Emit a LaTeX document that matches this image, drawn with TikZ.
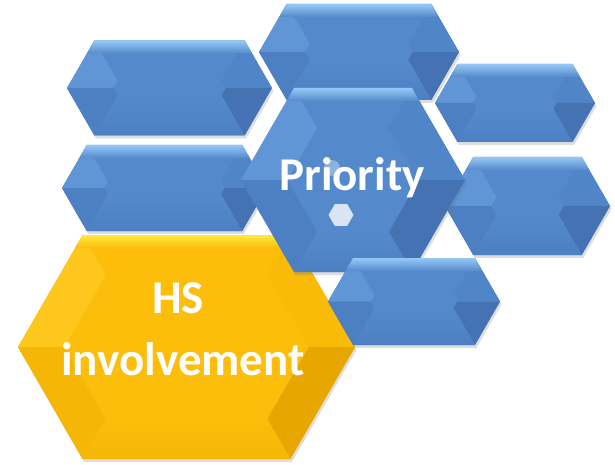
\documentclass[tikz,border=0pt]{standalone}
\usepackage{fontspec}
\setmainfont{Carlito}
\usetikzlibrary{shapes.geometric,shadows}
\definecolor{hexbody}{RGB}{84,138,204}
\definecolor{hexlight}{RGB}{150,200,245}
\definecolor{hexup}{RGB}{96,150,214}
\definecolor{hexlow}{RGB}{76,128,194}
\definecolor{hexrup}{RGB}{80,133,199}
\definecolor{hexdark}{RGB}{68,114,178}
\definecolor{goldbody}{RGB}{252,190,10}
\definecolor{goldlight}{RGB}{255,232,60}
\definecolor{goldup}{RGB}{255,199,30}
\definecolor{goldlow}{RGB}{246,182,6}
\definecolor{goldrup}{RGB}{250,186,8}
\definecolor{golddark}{RGB}{232,166,0}
\tikzset{hexshadow/.style={drop shadow={fill=black!60,opacity=0.22,shadow xshift=1.5pt,shadow yshift=-3pt}},
  hextext/.style={text=white,font=\fontsize{47}{56}\selectfont\bfseries,anchor=base}}
\newcommand{\bevelhex}[6]{%
  \pgfmathsetmacro{\hxa}{0.577*#5}%
  \pgfmathsetmacro{\hxd}{min(0.85*#5,40)}%
  \pgfmathsetmacro{\hxl}{#2-#4}\pgfmathsetmacro{\hxr}{#2+#4}%
  \pgfmathsetmacro{\hxtl}{#2-#4+\hxa}\pgfmathsetmacro{\hxtr}{#2+#4-\hxa}%
  \pgfmathsetmacro{\hxt}{#3-#5}\pgfmathsetmacro{\hxb}{#3+#5}%
  \pgfmathsetmacro{\hxit}{\hxt+\hxd}\pgfmathsetmacro{\hxib}{\hxb-\hxd}%
  \pgfmathsetmacro{\hxitl}{\hxtl+0.577*\hxd}\pgfmathsetmacro{\hxitr}{\hxtr-0.577*\hxd}%
  \pgfmathsetmacro{\hxil}{\hxl+1.155*\hxd}\pgfmathsetmacro{\hxir}{\hxr-1.155*\hxd}%
  \coordinate (#1) at (#2,#3);
  \fill[#6body,hexshadow] (\hxl,#3) -- (\hxtl,\hxt) -- (\hxtr,\hxt) -- (\hxr,#3)
    -- (\hxtr,\hxb) -- (\hxtl,\hxb) -- cycle;
  \fill[#6up] (\hxl,#3) -- (\hxtl,\hxt) -- (\hxitl,\hxit) -- (\hxil,#3) -- cycle;
  \fill[#6low] (\hxl,#3) -- (\hxil,#3) -- (\hxitl,\hxib) -- (\hxtl,\hxb) -- cycle;
  \fill[#6rup] (\hxtr,\hxt) -- (\hxr,#3) -- (\hxir,#3) -- (\hxitr,\hxit) -- cycle;
  \fill[#6dark] (\hxr,#3) -- (\hxtr,\hxb) -- (\hxitr,\hxib) -- (\hxir,#3) -- cycle;
  \shade[top color=#6body,bottom color=#6low] (\hxitl,\hxib) -- (\hxitr,\hxib)
    -- (\hxtr,\hxb) -- (\hxtl,\hxb) -- cycle;
  \shade[top color=#6light,bottom color=#6body] (\hxtl,\hxt) -- (\hxtr,\hxt)
    -- ({\hxtr+7.5},{\hxt+13}) -- ({\hxtl-7.5},{\hxt+13}) -- cycle;
}
\begin{document}
\begin{tikzpicture}[x=1pt,y=-1pt]
  \useasboundingbox (0,0) rectangle (615,465);
  \foreach \name/\cx/\cy/\w/\h in {midleft/164.5/188/102.5/43,topleft/169.5/88/102.5/47.5,
    topmid/359/52/100/48,upright/515/103/80/39,lowright/527.5/206/82.5/49}
  \bevelhex{\name}{\cx}{\cy}{\w}{\h}{hex};
  \bevelhex{hsinv}{186.5}{347}{168.5}{112}{gold}
  \bevelhex{prio}{353}{180}{112}{92}{hex}
  \bevelhex{botright}{414}{301.5}{86}{43.5}{hex}
  \node[circle,fill=white,opacity=0.35,minimum size=16pt,inner sep=0pt] (dot) at (332,168) {};
  \node[regular polygon,regular polygon sides=6,fill=white!78!hexbody,minimum size=25pt,inner sep=0pt] (core) at (341,215) {};
  \node[hextext] (prioritytext) at (352,190) {Priority};
  \node[hextext] (hstext) at (178,313) {HS};
  \node[hextext] (involvementtext) at (183,375) {involvement};
\end{tikzpicture}
\end{document}
